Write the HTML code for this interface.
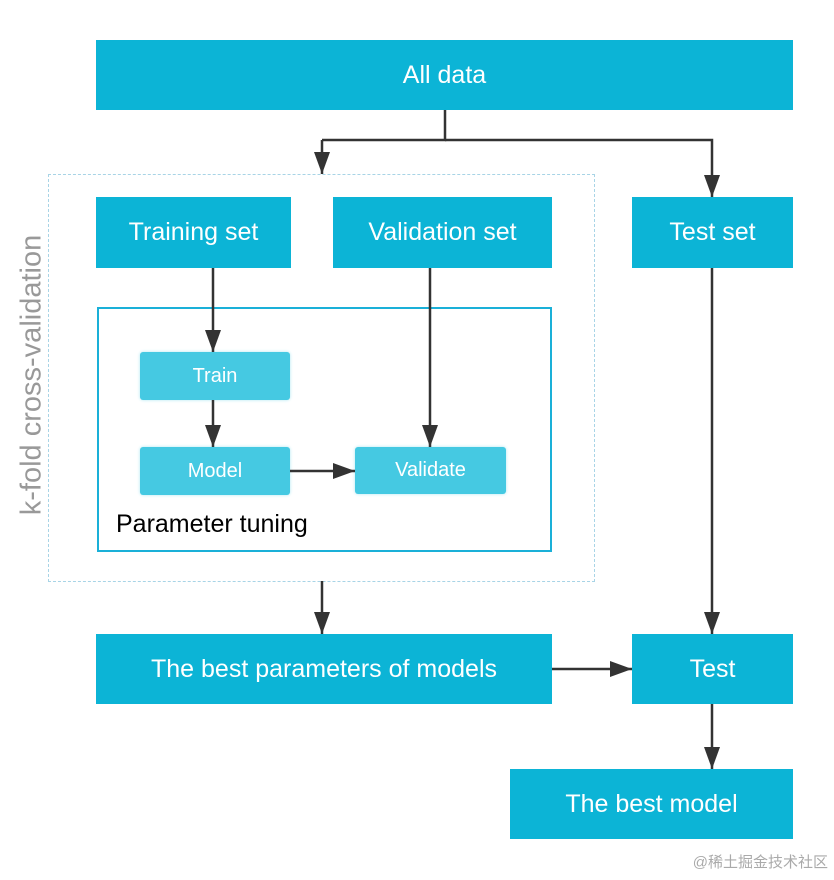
<!DOCTYPE html>
<html><head><meta charset="utf-8"><style>
body{margin:0;background:#fff;width:834px;height:880px;position:relative;overflow:hidden;font-family:"Liberation Sans",sans-serif}
.b{position:absolute;background:#0cb4d6;color:#fff;display:flex;align-items:center;justify-content:center;font-size:25px}
.s{position:absolute;background:#45c9e2;color:#fff;display:flex;align-items:center;justify-content:center;font-size:20px;border-radius:3px;box-shadow:0 0 3px #aee6f2}
</style></head><body>
<div style="position:absolute;left:48px;top:174px;width:545px;height:406px;border:1.5px dashed #a8d4e6"></div>
<div style="position:absolute;left:97px;top:307px;width:451px;height:241px;border:2px solid #1ab0d8"></div>
<div class="b" style="left:96px;top:40px;width:697px;height:70px">All data</div>
<div class="b" style="left:96px;top:197px;width:195px;height:71px">Training set</div>
<div class="b" style="left:333px;top:197px;width:219px;height:71px">Validation set</div>
<div class="b" style="left:632px;top:197px;width:161px;height:71px">Test set</div>
<div class="s" style="left:140px;top:352px;width:150px;height:48px">Train</div>
<div class="s" style="left:140px;top:447px;width:150px;height:48px">Model</div>
<div class="s" style="left:355px;top:447px;width:151px;height:47px">Validate</div>
<div style="position:absolute;left:116px;top:510px;font-size:25px;color:#000">Parameter tuning</div>
<div class="b" style="left:96px;top:634px;width:456px;height:70px">The best parameters of models</div>
<div class="b" style="left:632px;top:634px;width:161px;height:70px">Test</div>
<div class="b" style="left:510px;top:769px;width:283px;height:70px">The best model</div>
<div style="position:absolute;left:32px;top:375px;transform:translate(-50%,-50%) rotate(-90deg);white-space:nowrap;font-size:29px;color:#999">k-fold cross-validation</div>
<div style="position:absolute;right:6px;top:851px;font-size:15px;color:#aaa;font-family:'Liberation Sans','Noto Sans CJK SC',sans-serif">@稀土掘金技术社区</div>
<svg width="834" height="880" style="position:absolute;left:0;top:0">
<defs><marker id="a" markerWidth="22" markerHeight="16" refX="22" refY="8" orient="auto" markerUnits="userSpaceOnUse" viewBox="0 0 22 16"><path d="M0,0L22,8L0,16z" fill="#333"/></marker></defs>
<g stroke="#333" stroke-width="2.5" fill="none">
<path d="M445 110V140H322"/>
<path d="M322 140V174" marker-end="url(#a)"/>
<path d="M445 140H712V197" marker-end="url(#a)"/>
<path d="M213 268V352" marker-end="url(#a)"/>
<path d="M430 268V447" marker-end="url(#a)"/>
<path d="M213 400V447" marker-end="url(#a)"/>
<path d="M290 471H355" marker-end="url(#a)"/>
<path d="M712 268V634" marker-end="url(#a)"/>
<path d="M322 581V634" marker-end="url(#a)"/>
<path d="M552 669H632" marker-end="url(#a)"/>
<path d="M712 704V769" marker-end="url(#a)"/>
</g></svg>
</body></html>
